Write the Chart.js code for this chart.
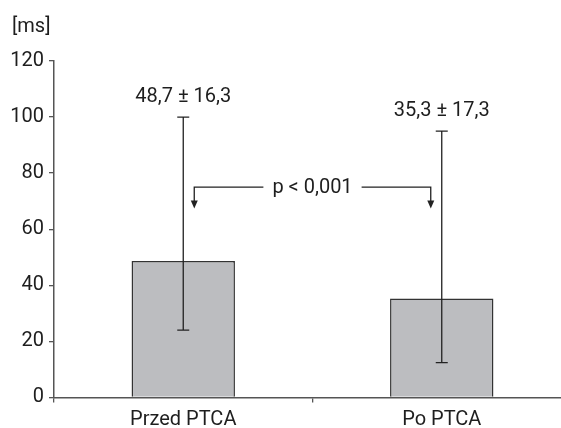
<!DOCTYPE html>
<html><head><meta charset="utf-8">
<script src="https://cdn.jsdelivr.net/npm/chart.js@4/dist/chart.umd.min.js"></script>
<style>html,body{margin:0;padding:0;background:#fff;overflow:hidden;width:561px;height:428px}canvas{display:block}</style>
</head><body>
<canvas id="c" width="571" height="428"></canvas>
<script>
const categories = ['Przed PTCA', 'Po PTCA'];
const means = [48.7, 35.3];
const errHigh = [100, 95];
const errLow = [24, 12.4];
const meanLabels = ['48,7 ± 16,3', '35,3 ± 17,3'];
const yTicks = [0, 20, 40, 60, 80, 100, 120];
const pLabel = 'p < 0,001';
const pLevel = 75;
const arrowTip = 67.4;
const unitLabel = '[ms]';

const FONT = "Roboto, 'Liberation Sans', Arial, sans-serif";
const TXT = '#1e1e1e';

const overlay = {
  id: 'overlay',
  afterDatasetsDraw(chart) {
    const ctx = chart.ctx;
    const y = chart.scales.y;
    const meta = chart.getDatasetMeta(0);
    ctx.save();
    ctx.strokeStyle = '#222';
    ctx.lineWidth = 1.3;
    meta.data.forEach((bar, i) => {
      const x = bar.x;
      const yh = y.getPixelForValue(errHigh[i]);
      const yl = y.getPixelForValue(errLow[i]);
      ctx.beginPath();
      ctx.moveTo(x, yh); ctx.lineTo(x, yl);
      ctx.moveTo(x - 6, yh); ctx.lineTo(x + 6, yh);
      ctx.moveTo(x - 6, yl); ctx.lineTo(x + 6, yl);
      ctx.stroke();
      ctx.fillStyle = TXT;
      ctx.font = '20px ' + FONT;
      ctx.textAlign = 'center';
      ctx.textBaseline = 'middle';
      ctx.fillText(meanLabels[i], x, yh - 20);
    });
    // p-value bracket
    const x1 = meta.data[0].x + 11;
    const x2 = meta.data[1].x - 11;
    const yp = y.getPixelForValue(pLevel);
    const yt = y.getPixelForValue(arrowTip);
    const xm = (x1 + x2) / 2;
    ctx.font = '20px ' + FONT;
    const tw = ctx.measureText(pLabel).width;
    ctx.beginPath();
    ctx.moveTo(x1, yt - 6); ctx.lineTo(x1, yp); ctx.lineTo(xm - tw / 2 - 9, yp);
    ctx.moveTo(xm + tw / 2 + 9, yp); ctx.lineTo(x2, yp); ctx.lineTo(x2, yt - 6);
    ctx.stroke();
    ctx.fillStyle = '#222';
    [x1, x2].forEach(ax => {
      ctx.beginPath();
      ctx.moveTo(ax - 3.5, yt - 8); ctx.lineTo(ax + 3.5, yt - 8); ctx.lineTo(ax, yt);
      ctx.closePath(); ctx.fill();
    });
    ctx.fillStyle = TXT;
    ctx.textAlign = 'center';
    ctx.textBaseline = 'middle';
    ctx.fillText(pLabel, xm, yp + 1);
    // unit label
    ctx.textAlign = 'left';
    ctx.fillText(unitLabel, 12, 27);
    ctx.restore();
  }
};

new Chart(document.getElementById('c'), {
  type: 'bar',
  data: {
    labels: categories,
    datasets: [{
      data: means,
      backgroundColor: '#bcbdc0',
      borderColor: '#333',
      borderWidth: 1.5,
      borderSkipped: 'bottom',
      barPercentage: 0.4,
      categoryPercentage: 1.0
    }]
  },
  options: {
    responsive: false,
    animation: false,
    layout: { padding: { top: 61, right: 0, left: 0, bottom: 0 } },
    plugins: { legend: { display: false }, tooltip: { enabled: false } },
    scales: {
      x: {
        grid: { display: true, drawOnChartArea: false, drawTicks: true, tickLength: 5, color: '#555', lineWidth: 1.3 },
        border: { display: true, color: '#555', width: 1.5 },
        ticks: { color: TXT, font: { family: FONT, size: 20 }, padding: 6, maxRotation: 0 },
        afterFit(s) { s.height = 30.6; }
      },
      y: {
        min: 0, max: 120,
        afterBuildTicks(s) { s.ticks = yTicks.map(v => ({ value: v })); },
        grid: { display: true, drawOnChartArea: false, drawTicks: true, tickLength: 5, color: '#555', lineWidth: 1.3 },
        border: { display: true, color: '#555', width: 1.5 },
        ticks: { color: TXT, font: { family: FONT, size: 20 }, padding: 5 },
        afterFit(s) { s.width = 54; }
      }
    }
  },
  plugins: [overlay]
});
</script>
</body></html>
